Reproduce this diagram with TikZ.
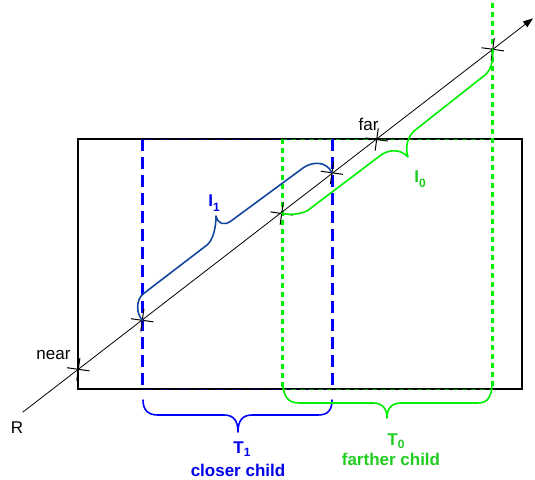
\documentclass[tikz,border=0pt]{standalone}
\usepackage{fontspec}
\setmainfont{Liberation Sans}
\usetikzlibrary{arrows.meta,shapes.misc}
\definecolor{myblue}{RGB}{0,0,255}
\definecolor{bracenavy}{RGB}{20,70,160}
\definecolor{mygreen}{RGB}{0,240,0}
\definecolor{txtgreen}{RGB}{30,205,30}
\definecolor{txtblue}{RGB}{0,0,235}
\begin{document}
\begin{tikzpicture}[x=1pt,y=-1pt,
  lbl/.style={font=\fontsize{17}{20}\selectfont, inner sep=0pt, anchor=base},
  blbl/.style={font=\fontsize{17}{20}\selectfont\bfseries, inner sep=0pt, anchor=base},
  crossmark/.style={draw, cross out, minimum size=15pt, inner sep=0pt, rotate=37, line width=1pt},
  bluedash/.style={myblue, line width=3pt, dash pattern=on 12pt off 6pt},
  greendot/.style={mygreen, line width=3pt, dash pattern=on 4.5pt off 4.5pt},
  blueedge/.style={myblue!35!black, line width=1pt, dash pattern=on 12pt off 6pt},
  greenedge/.style={mygreen!60!black, line width=1pt, dash pattern=on 4.5pt off 4.5pt},
  bracestyle/.style={line width=1.6pt, line cap=round, line join=round}
]
\useasboundingbox (0,0) rectangle (535,479);

% box
\draw[line width=1.6pt] (78,139) rectangle (522,389);

% vertical child bounds
\draw[bluedash] (142,139) -- (142,389);
\draw[bluedash] (332,139) -- (332,389);
\draw[greendot] (282,139) -- (282,389);
\draw[greendot] (492,3) -- (492,389);
% overlays on box edges
\draw[blueedge] (142,139) -- (332,139);
\draw[blueedge] (142,389) -- (332,389);
\draw[greenedge] (282,139) -- (492,139);
\draw[greenedge] (282,389) -- (492,389);

% ray
\coordinate (r0) at (22.7,412.2);
\coordinate (rtip) at (533,18.3);
\draw[line width=0.8pt, -{Triangle[length=10pt,width=7pt]}] (r0) -- (rtip);

% crossing marks
\node[crossmark] (cnear) at (78.3,369.3) {};
\node[crossmark] (c1a) at (142.3,320.3) {};
\node[crossmark] (c0a) at (281.7,213.5) {};
\node[crossmark] (c1b) at (332,172.8) {};
\node[crossmark] (cfar) at (376.7,139.5) {};
\node[crossmark] (c0b) at (492.7,49.3) {};

% I1 brace
\draw[bracestyle, bracenavy] (c1a.center) .. controls (136,313) and (136,300) .. (143,294)
  -- (207,245) .. controls (213,240) and (216,228) .. (216,216)
  .. controls (218,224) and (224,226) .. (231,221)
  -- (303,168) .. controls (311,162) and (326,160) .. (c1b.center);

% I0 brace
\draw[bracestyle, mygreen] (c0a.center) .. controls (285,214) and (295,216) .. (307,211)
  -- (381,155) .. controls (388,150) and (400,148) .. (408,157)
  .. controls (405,148) and (407,138) .. (414,131)
  -- (485,75) .. controls (492,69) and (493,60) .. (c0b.center);

% T1 brace
\draw[bracestyle, myblue] (143,400) .. controls (143,410) and (148,415) .. (158,415)
  -- (224,415) .. controls (233,415) and (238,420) .. (238,432)
  .. controls (238,420) and (243,415) .. (252,415)
  -- (318,415) .. controls (328,415) and (332,410) .. (332,400);

% T0 brace
\draw[bracestyle, mygreen] (283,383) .. controls (283,396) and (288,403) .. (299,403)
  -- (373,403) .. controls (382,403) and (387,408) .. (387,418)
  .. controls (387,408) and (392,403) .. (401,403)
  -- (478,403) .. controls (488,403) and (492,396) .. (492,383);

% labels
\node[lbl] (near) at (53.5,359) {near};
\node[lbl] (far) at (368.5,130) {far};
\node[lbl] (R) at (17,433) {R};

\node[blbl, txtblue] (I1) at (214,206) {I\raisebox{-0.3em}{\fontsize{12}{12}\selectfont\bfseries 1}};
\node[blbl, txtgreen] (I0) at (420,182) {I\raisebox{-0.3em}{\fontsize{12}{12}\selectfont\bfseries 0}};
\node[blbl, txtblue] (T1) at (242,453) {T\raisebox{-0.2em}{\fontsize{12}{12}\selectfont\bfseries 1}};
\node[blbl, txtblue] (closer) at (238,476) {closer child};
\node[blbl, txtgreen] (T0) at (396,445) {T\raisebox{-0.2em}{\fontsize{12}{12}\selectfont\bfseries 0}};
\node[blbl, txtgreen] (farther) at (391,465) {farther child};
\end{tikzpicture}
\end{document}
